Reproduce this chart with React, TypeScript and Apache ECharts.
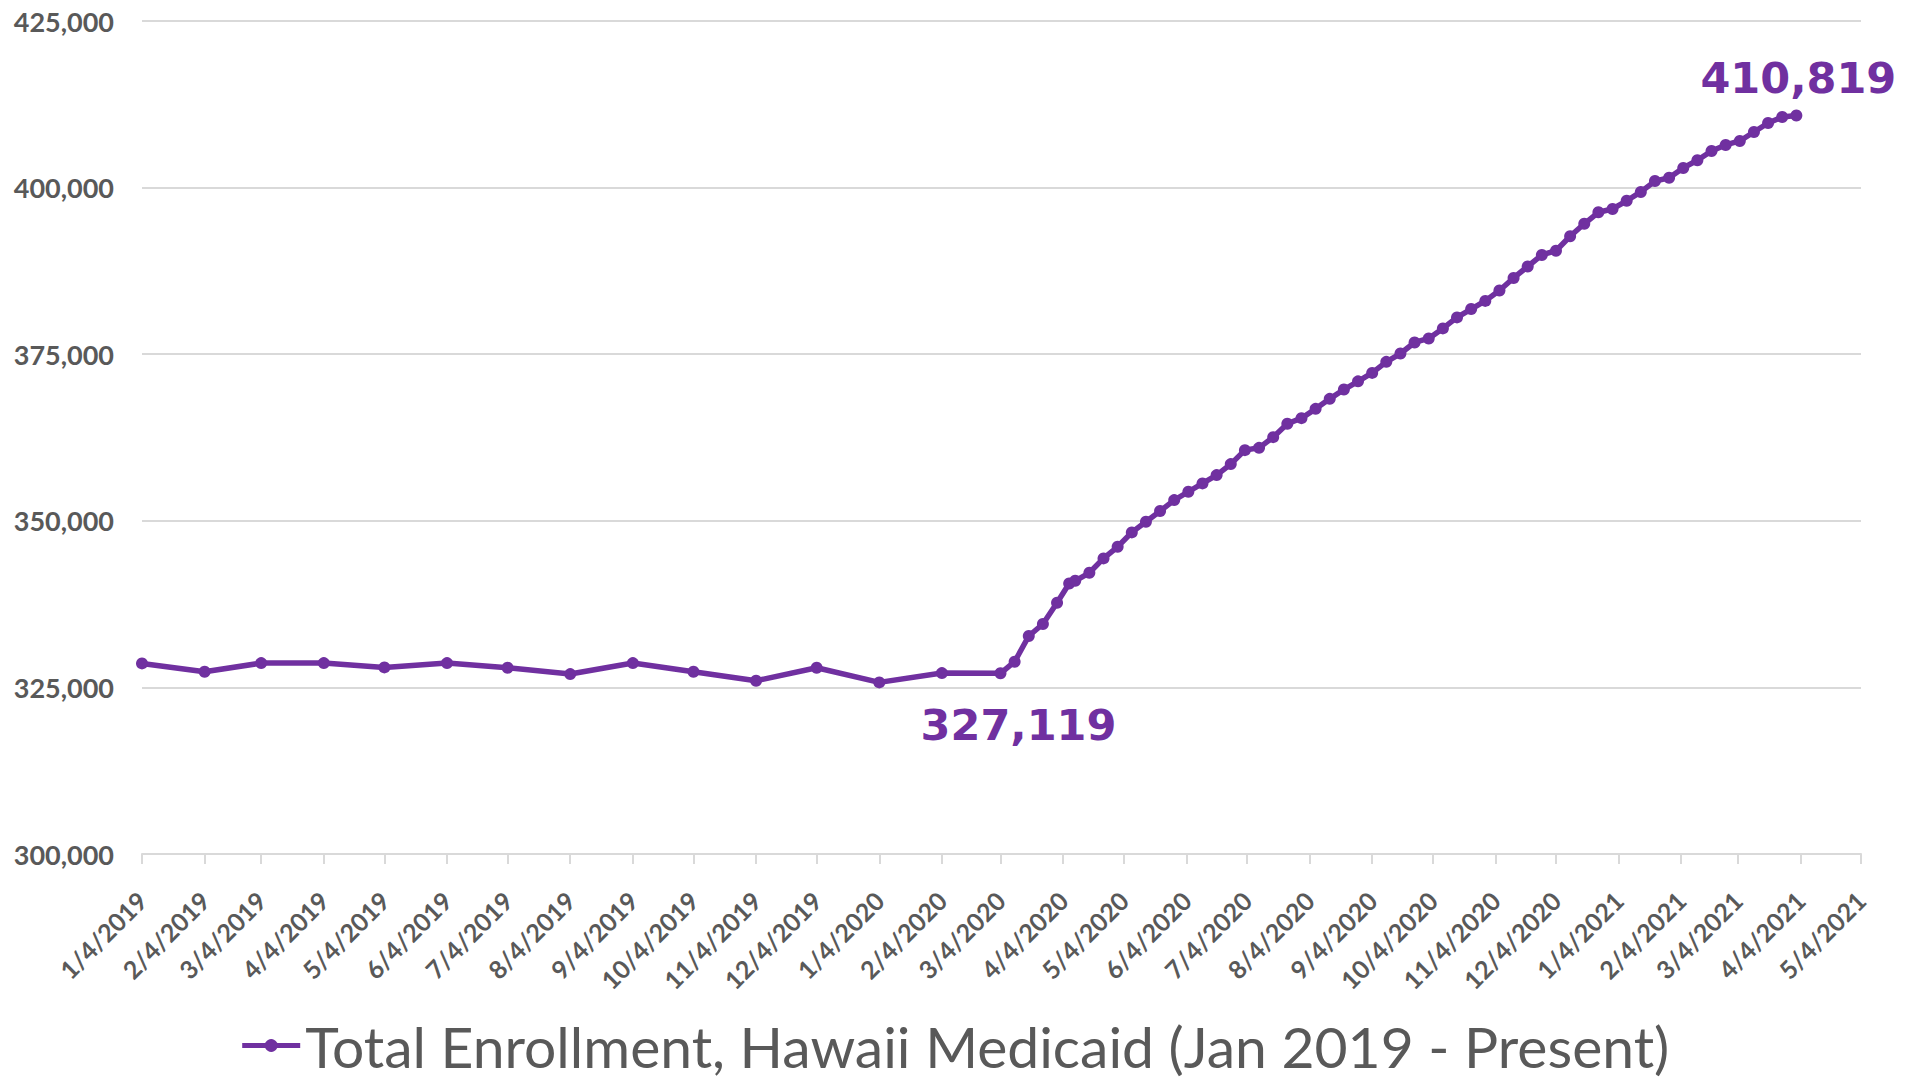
import React, { useEffect, useRef } from "react";
import * as echarts from "echarts";

// ---- Data ----
const monthlyDates = [
  "2019-01-04", "2019-02-04", "2019-03-04", "2019-04-04", "2019-05-04", "2019-06-04",
  "2019-07-04", "2019-08-04", "2019-09-04", "2019-10-04", "2019-11-04", "2019-12-04",
  "2020-01-04", "2020-02-04",
];
const monthlyValues = [
  328600, 327350, 328650, 328650, 328000, 328650,
  327950, 327000, 328650, 327350, 326000, 327950,
  325750, 327150,
];

const weeklyDates = [
  "2020-03-04", "2020-03-11", "2020-03-18", "2020-03-25", "2020-04-01", "2020-04-07",
  "2020-04-10", "2020-04-17", "2020-04-24", "2020-05-01", "2020-05-08", "2020-05-15",
  "2020-05-22", "2020-05-29", "2020-06-05", "2020-06-12", "2020-06-19", "2020-06-26",
  "2020-07-03", "2020-07-10", "2020-07-17", "2020-07-24", "2020-07-31", "2020-08-07",
  "2020-08-14", "2020-08-21", "2020-08-28", "2020-09-04", "2020-09-11", "2020-09-18",
  "2020-09-25", "2020-10-02", "2020-10-09", "2020-10-16", "2020-10-23", "2020-10-30",
  "2020-11-06", "2020-11-13", "2020-11-20", "2020-11-27", "2020-12-04", "2020-12-11",
  "2020-12-18", "2020-12-25", "2021-01-01", "2021-01-08", "2021-01-15", "2021-01-22",
  "2021-01-29", "2021-02-05", "2021-02-12", "2021-02-19", "2021-02-26", "2021-03-05",
  "2021-03-12", "2021-03-19", "2021-03-26", "2021-04-02",
];
const weeklyValues = [
  327119, 328855, 332710, 334510, 337705, 340600,
  341000, 342200, 344360, 346100, 348260, 349850,
  351460, 353110, 354360, 355610, 356860, 358510,
  360600, 360950, 362550, 364560, 365400, 366800,
  368300, 369700, 370930, 372190, 373850, 375100,
  376760, 377360, 378870, 380520, 381780, 383000,
  384550, 386440, 388160, 389890, 390530, 392700,
  394570, 396300, 396790, 398020, 399350, 400980,
  401470, 402950, 404100, 405500, 406400, 407000,
  408350, 409700, 410600, 410819,
];

const tickDates = [
  "2019-01-04", "2019-02-04", "2019-03-04", "2019-04-04", "2019-05-04", "2019-06-04",
  "2019-07-04", "2019-08-04", "2019-09-04", "2019-10-04", "2019-11-04", "2019-12-04",
  "2020-01-04", "2020-02-04", "2020-03-04", "2020-04-04", "2020-05-04", "2020-06-04",
  "2020-07-04", "2020-08-04", "2020-09-04", "2020-10-04", "2020-11-04", "2020-12-04",
  "2021-01-04", "2021-02-04", "2021-03-04", "2021-04-04", "2021-05-04",
];

const annotations = [
  { date: "2020-03-04", value: 327119, offset: [18, 52] },
  { date: "2021-04-02", value: 410819, offset: [2, -38] },
];

const seriesName = "Total Enrollment, Hawaii Medicaid (Jan 2019 - Present)";
const yMin = 300000;
const yMax = 425000;
const yInterval = 25000;

const PURPLE = "#7030A0";
const GRAY = "#595959";
const GRID = "#D9D9D9";

const ts = (s: string) => {
  const [y, m, d] = s.split("-").map(Number);
  return Date.UTC(y, m - 1, d);
};
const fmtDate = (v: number) => {
  const d = new Date(v);
  return `${d.getUTCMonth() + 1}/${d.getUTCDate()}/${d.getUTCFullYear()}`;
};
const fmtNum = (v: number) => Math.round(v).toLocaleString("en-US");

export default function App() {
  const ref = useRef<HTMLDivElement>(null);

  useEffect(() => {
    if (!ref.current) return;
    const chart = echarts.init(ref.current, undefined, { renderer: "svg" });

    const allDates = [...monthlyDates, ...weeklyDates];
    const allValues = [...monthlyValues, ...weeklyValues];
    const data = allDates.map((d, i) => [ts(d), allValues[i]]);
    const ticks = tickDates.map(ts);

    chart.setOption({
      animation: false,
      backgroundColor: "#ffffff",
      grid: { left: 142, right: 48, top: 21, bottom: 224, containLabel: false },
      legend: {
        show: true,
        left: "center",
        top: 1012,
        itemWidth: 58,
        itemHeight: 16,
        itemGap: 10,
        lineStyle: { width: 5 },
        textStyle: {
          fontFamily: "Lato",
          fontSize: 57,
          color: GRAY,
          fontWeight: "normal",
        },
        data: [seriesName],
      },
      xAxis: {
        type: "value",
        min: ts(tickDates[0]),
        max: ts(tickDates[tickDates.length - 1]),
        splitLine: { show: false },
        axisLine: { show: true, lineStyle: { color: GRID, width: 2 } },
        axisTick: {
          show: true,
          length: 10,
          customValues: ticks,
          lineStyle: { color: GRID, width: 2 },
        },
        axisLabel: {
          show: true,
          customValues: ticks,
          rotate: 45,
          margin: 42,
          formatter: (v: number) => fmtDate(v),
          fontFamily: "Lato",
          fontWeight: "bold",
          fontSize: 25,
          color: GRAY,
        },
      },
      yAxis: {
        type: "value",
        min: yMin,
        max: yMax,
        interval: yInterval,
        axisLine: { show: false },
        axisTick: { show: false },
        splitLine: { show: true, lineStyle: { color: GRID, width: 2 } },
        axisLabel: {
          margin: 28,
          formatter: (v: number) => fmtNum(v),
          fontFamily: "Lato",
          fontWeight: "bold",
          fontSize: 27,
          color: GRAY,
        },
      },
      series: [
        {
          name: seriesName,
          type: "line",
          data,
          color: PURPLE,
          symbol: "circle",
          symbolSize: 12,
          showSymbol: true,
          lineStyle: { color: PURPLE, width: 5.5 },
          itemStyle: { color: PURPLE },
          markPoint: {
            symbol: "circle",
            symbolSize: 1,
            itemStyle: { color: "rgba(0,0,0,0)" },
            data: annotations.map((a) => ({
              coord: [ts(a.date), a.value],
              value: a.value,
              label: {
                show: true,
                position: "inside",
                offset: a.offset,
                formatter: () => fmtNum(a.value),
                fontFamily: "DejaVu Sans",
                fontWeight: "bold",
                fontSize: 43,
                color: PURPLE,
              },
            })),
          },
        },
      ],
    });

    return () => chart.dispose();
  }, []);

  return (
    <div
      ref={ref}
      style={{ position: "fixed", left: 0, top: 0, width: 1909, height: 1078, background: "#fff" }}
    />
  );
}
